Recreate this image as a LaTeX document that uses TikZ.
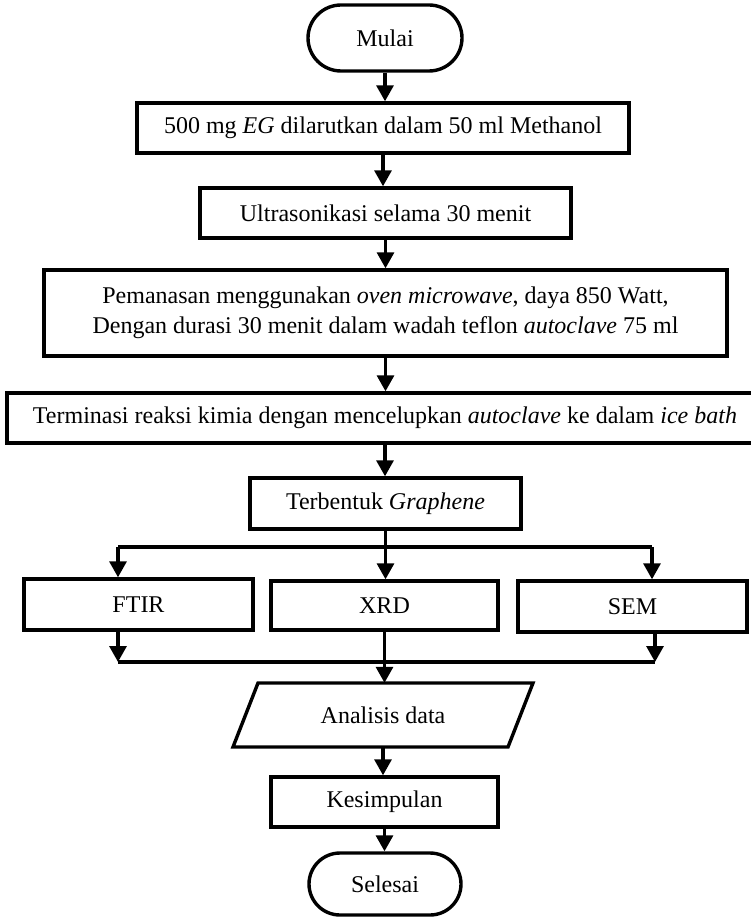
\documentclass[tikz,border=0pt]{standalone}
\usepackage{fontspec}
\setmainfont{Liberation Serif}
\usetikzlibrary{arrows.meta,shapes.misc}

\begin{document}
\begin{tikzpicture}[x=1pt,y=-1pt,
  box/.style={draw,line width=3.4pt,inner sep=0pt,align=center,
    font=\fontsize{24}{30}\selectfont},
  proc/.style={box,rectangle},
  term/.style={box,rounded rectangle},
  io/.style={inner sep=0pt,font=\fontsize{24}{30}\selectfont},
  arr/.style={line width=3.2pt,-{Triangle[width=17pt,length=16pt]}},
  ln/.style={line width=3.2pt}]
  \useasboundingbox (0,0) rectangle (751,917);
  \clip (0,0) rectangle (751,917);
  \node[term,minimum width=154,minimum height=66] (mulai) at (385,38) {Mulai};
  \node[proc,minimum width=492,minimum height=50] (larut) at (383,128)
    {500 mg \textit{EG} dilarutkan dalam 50 ml Methanol};
  \node[proc,minimum width=371,minimum height=50] (ultra) at (385.5,213)
    {Ultrasonikasi selama 30 menit};
  \node[proc,minimum width=683,minimum height=86] (panas) at (385.5,313)
    {Pemanasan menggunakan \textit{oven microwave}, daya 850 Watt,\\
     Dengan durasi 30 menit dalam wadah teflon \textit{autoclave} 75 ml};
  \node[proc,minimum width=756,minimum height=50] (termin) at (385,418)
    {Terminasi reaksi kimia dengan mencelupkan \textit{autoclave} ke dalam \textit{ice bath}};
  \node[proc,minimum width=271,minimum height=51] (graf) at (385.5,503.5)
    {Terbentuk \textit{Graphene}};
  \node[proc,minimum width=229,minimum height=51] (ftir) at (138.5,604.5) {FTIR};
  \node[proc,minimum width=227,minimum height=49] (xrd) at (384.5,605.5) {XRD};
  \node[proc,minimum width=229,minimum height=51] (sem) at (632.5,606.5) {SEM};
  \draw[line width=3.4pt,line join=miter] (258,683) -- (533,683) -- (508,747)
    -- (233,747) -- cycle;
  \node[io,minimum width=250,minimum height=64] (ana) at (383,715) {Analisis data};
  \node[proc,minimum width=227,minimum height=50] (simpul) at (384.5,802)
    {Kesimpulan};
  \node[term,minimum width=152,minimum height=62] (selesai) at (385,884) {Selesai};
  % cabang dan gabungan
  \coordinate (bl) at (118,547);
  \coordinate (br) at (652,547);
  \coordinate (ml) at (118,662);
  \coordinate (mr) at (655,662);
  \foreach \a/\b in {mulai/larut,larut/ultra,ultra/panas,panas/termin,termin/graf}{
    \draw[arr] (\a.south) -- (\a.south |- \b.north);
  }
  \draw[ln] (bl) -- (br);
  \draw[arr] (graf.south) -- (graf.south |- xrd.north);
  \draw[arr] (bl) -- (bl |- ftir.north);
  \draw[arr] (br) -- (br |- sem.north);
  \draw[ln] (ml) -- (mr);
  \draw[arr] (ml |- ftir.south) -- (ml);
  \draw[arr] (mr |- sem.south) -- (mr);
  \draw[arr] (xrd.south) -- (xrd.south |- ana.north);
  \foreach \a/\b in {ana/simpul,simpul/selesai}{
    \draw[arr] (\a.south) -- (\a.south |- \b.north);
  }
\end{tikzpicture}
\end{document}
